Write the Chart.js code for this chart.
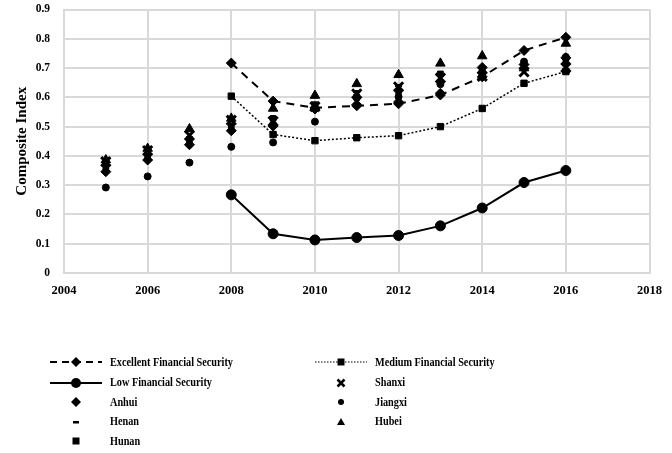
<!DOCTYPE html>
<html>
<head>
<meta charset="utf-8">
<script src="https://cdn.jsdelivr.net/npm/chart.js@4/dist/chart.umd.min.js"></script>
<style>
  body { margin: 0; background: #fff; }
  #wrap { position: relative; width: 672px; height: 453px; }
  #myChart { position: absolute; left: 0; top: 0; }
  .leg { position: absolute; height: 16px; display: flex; align-items: center;
         font: bold 12.5px "Liberation Serif", "Times New Roman", serif; color: #000; white-space: nowrap; }
  .leg svg { flex: none; }
  .leg span { display: inline-block; margin-left: 8px; transform: scaleX(0.82); transform-origin: left center; }
</style>
</head>
<body>
<div id="wrap">
  <canvas id="myChart" width="672" height="453"></canvas>
  <div id="legend"></div>
</div>
<script>
const ctx = document.getElementById("myChart");

const provYears = [2005, 2006, 2007, 2008, 2009, 2010, 2011, 2012, 2013, 2014, 2015, 2016];
const groupYears = [2008, 2009, 2010, 2011, 2012, 2013, 2014, 2015, 2016];

const excellent = [0.717, 0.587, 0.564, 0.571, 0.578, 0.608, 0.67, 0.76, 0.805];
const medium = [0.604, 0.473, 0.452, 0.462, 0.469, 0.5, 0.562, 0.648, 0.688];
const low = [0.267, 0.134, 0.113, 0.121, 0.128, 0.161, 0.222, 0.309, 0.35];

const shanxi = [0.38, 0.418, 0.47, 0.522, 0.518, 0.568, 0.612, 0.636, 0.666, 0.672, 0.687, 0.702];
const anhui = [0.346, 0.386, 0.438, 0.486, 0.502, 0.56, 0.575, 0.584, 0.614, 0.702, 0.712, 0.735];
const jiangxi = [0.292, 0.33, 0.377, 0.431, 0.446, 0.517, 0.598, 0.602, 0.645, 0.685, 0.722, 0.738];
const henan = [0.372, 0.405, 0.462, 0.508, 0.51, 0.578, 0.62, 0.64, 0.655, 0.665, 0.697, 0.712];
const hubei = [0.386, 0.425, 0.492, 0.528, 0.562, 0.606, 0.646, 0.677, 0.716, 0.741, 0.7, 0.784];
const hunan = [0.362, 0.398, 0.455, 0.5, 0.528, 0.575, 0.602, 0.622, 0.68, 0.69, 0.705, 0.722];

const yTicks = [0, 0.1, 0.2, 0.3, 0.4, 0.5, 0.6, 0.7, 0.8, 0.9];

const pts = (xs, ys) => ys.map((v, i) => ({ x: xs[i], y: v }));

const lineSet = (label, values, style, radius, dash, width) => ({
  label: label,
  data: pts(groupYears, values),
  showLine: true,
  borderColor: "#000",
  backgroundColor: "#000",
  borderWidth: width,
  borderDash: dash,
  pointStyle: style,
  pointRadius: radius,
  pointBorderWidth: 1,
  pointBorderColor: "#000",
  pointBackgroundColor: "#000",
});

const dotSet = (label, values, style, radius, bw) => ({
  label: label,
  data: pts(provYears, values),
  showLine: false,
  pointStyle: style,
  pointRadius: radius,
  pointBorderWidth: bw,
  pointBorderColor: "#000",
  pointBackgroundColor: "#000",
});

const gridColor = "#d9d9d9";
const serif = "'Liberation Serif', 'Times New Roman', serif";

new Chart(ctx, {
  type: "scatter",
  data: {
    datasets: [
      lineSet("Excellent Financial Security", excellent, "rectRot", 5, [8, 6], 2),
      lineSet("Medium Financial Security", medium, "rect", 4.5, [2, 2], 1.5),
      lineSet("Low Financial Security", low, "circle", 5, [], 2),
      dotSet("Shanxi", shanxi, "crossRot", 6.5, 3),
      dotSet("Anhui", anhui, "rectRot", 5, 1),
      dotSet("Jiangxi", jiangxi, "circle", 3.5, 1),
      dotSet("Henan", henan, "line", 3.5, 3),
      dotSet("Hubei", hubei, "triangle", 5.5, 1),
      dotSet("Hunan", hunan, "rect", 4, 1),
    ],
  },
  options: {
    responsive: false,
    animation: false,
    devicePixelRatio: 1,
    layout: { padding: { left: 0, top: 0, right: 16, bottom: 150 } },
    plugins: { legend: { display: false }, tooltip: { enabled: false } },
    scales: {
      x: {
        type: "linear",
        min: 2004,
        max: 2018,
        ticks: {
          stepSize: 2,
          padding: 10,
          color: "#000",
          font: { family: serif, size: 12.5, weight: "bold" },
          callback: (v) => String(v),
        },
        grid: { color: gridColor, lineWidth: 2, drawTicks: false },
        border: { color: gridColor, width: 2 },
        afterFit: (s) => { s.height = 30; },
      },
      y: {
        min: 0,
        max: 0.9,
        afterBuildTicks: (s) => { s.ticks = yTicks.map((v) => ({ value: v })); },
        ticks: {
          padding: 14,
          color: "#000",
          font: { family: serif, size: 11.5, weight: "bold" },
          callback: (v) => (v === 0 ? "0" : v.toFixed(1)),
        },
        title: {
          display: true,
          text: "Composite Index",
          color: "#000",
          padding: { top: 13, bottom: 0 },
          font: { family: serif, size: 15, weight: "bold" },
        },
        grid: { color: gridColor, lineWidth: 2, drawTicks: false },
        border: { color: gridColor, width: 2 },
        afterFit: (s) => {
          s.width = 64;
          s.paddingTop = 9;
          s.paddingBottom = 0;
        },
      },
    },
  },
});

// legend below the plot, two columns
const legendItems = [
  { col: 0, row: 0, text: "Excellent Financial Security", line: "dash", mark: "diamond" },
  { col: 1, row: 0, text: "Medium Financial Security", line: "dot", mark: "square" },
  { col: 0, row: 1, text: "Low Financial Security", line: "solid", mark: "bigcircle" },
  { col: 1, row: 1, text: "Shanxi", mark: "cross" },
  { col: 0, row: 2, text: "Anhui", mark: "diamond" },
  { col: 1, row: 2, text: "Jiangxi", mark: "circle" },
  { col: 0, row: 3, text: "Henan", mark: "dash" },
  { col: 1, row: 3, text: "Hubei", mark: "triangle" },
  { col: 0, row: 4, text: "Hunan", mark: "square" },
];

const markSvg = (m) => {
  const c = 26;
  switch (m) {
    case "diamond": return `<path d="M${c} 2 L${c + 5} 7 L${c} 12 L${c - 5} 7 Z" fill="#000"/>`;
    case "square": return `<rect x="${c - 3.5}" y="3.5" width="7" height="7" fill="#000"/>`;
    case "bigcircle": return `<circle cx="${c}" cy="7" r="5" fill="#000"/>`;
    case "circle": return `<circle cx="${c}" cy="7" r="3" fill="#000"/>`;
    case "cross": return `<path d="M${c - 3.5} 3.5 L${c + 3.5} 10.5 M${c + 3.5} 3.5 L${c - 3.5} 10.5" stroke="#000" stroke-width="2.5"/>`;
    case "dash": return `<rect x="${c - 3}" y="6" width="6" height="2.5" fill="#000"/>`;
    case "triangle": return `<path d="M${c} 3 L${c + 4} 10 L${c - 4} 10 Z" fill="#000"/>`;
  }
  return "";
};

const lineSvg = (l) => {
  if (l === "dash") return `<line x1="0" y1="7" x2="52" y2="7" stroke="#000" stroke-width="2" stroke-dasharray="7,5"/>`;
  if (l === "dot") return `<line x1="0" y1="7" x2="52" y2="7" stroke="#000" stroke-width="1.2" stroke-dasharray="1.5,1.5"/>`;
  if (l === "solid") return `<line x1="0" y1="7" x2="52" y2="7" stroke="#000" stroke-width="2"/>`;
  return "";
};

const legendBox = document.getElementById("legend");
const colX = [50, 315];
const rowY = [354, 374.5, 394, 413.5, 433];
legendItems.forEach((it) => {
  const d = document.createElement("div");
  d.className = "leg";
  d.style.left = colX[it.col] + "px";
  d.style.top = rowY[it.row] + "px";
  d.innerHTML = `<svg width="52" height="14">${lineSvg(it.line)}${markSvg(it.mark)}</svg><span>${it.text}</span>`;
  legendBox.appendChild(d);
});
</script>
</body>
</html>
